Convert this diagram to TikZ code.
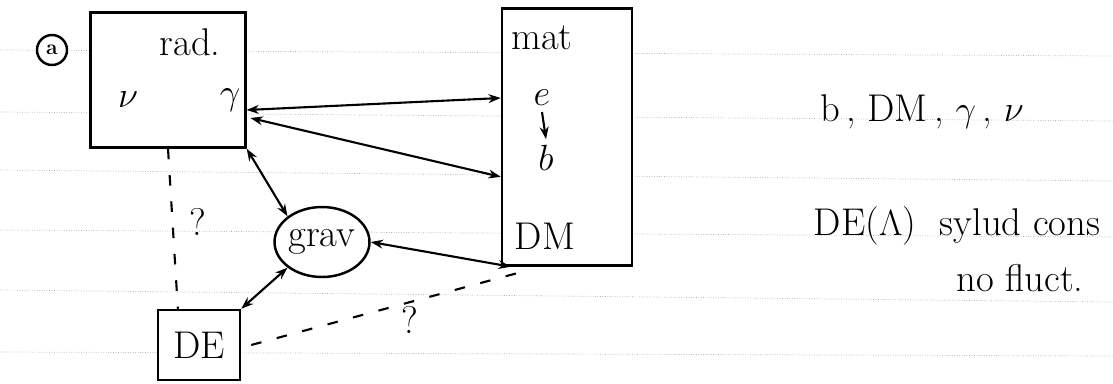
\documentclass[tikz,border=0pt]{standalone}
\usepackage{amsmath,amssymb}
\usetikzlibrary{positioning, arrows.meta, calc, shapes.geometric}
\definecolor{ruleline}{RGB}{170, 170, 170}

\begin{document}
\begin{tikzpicture}[
    x=0.02cm, y=-0.02cm,
    >={Stealth[length=7pt, width=5pt]},
    box/.style={draw=black, line width=1.4pt, inner sep=0pt},
    txt/.style={font=\fontsize{22}{26}\selectfont},
    arrow/.style={<->, line width=1.2pt, black},
    guess/.style={dashed, dash pattern=on 6pt off 9pt, line width=1.2pt, black},
]
\useasboundingbox (0,0) rectangle (1113,383);

% ===== ruled paper =====
\foreach \yl/\yr in {50/56, 112/121, 170/181, 230/237, 290/302, 352/356} {
    \draw[ruleline, densely dotted, line width=0.4pt] (0,\yl) -- (1113,\yr);
}

% ===== label =====
\node[draw, circle, line width=1.4pt, minimum size=0.6cm, inner sep=0pt, font=\large\bfseries, fill=white] (tag) at (52,50) {a};

% ===== rad =====
\node[box, fill=white, minimum width=3.1cm, minimum height=2.7cm] (rad) at (168,80) {};
\node[txt] (radlbl) at (190,42) {rad.};
\node[txt] (nu) at (128,100) {$\nu$};
\node[txt] (gam) at (230,100) {$\gamma$};

% ===== mat =====
\node[box, fill=white, minimum width=2.6cm, minimum height=5.14cm] (mat) at (567,137) {};
\node[txt, anchor=west] (matlbl) at (505,38) {mat};
\node[txt] (el) at (542,98) {$e$};
\node[txt] (bar) at (546,158) {$b$};
\node[txt] (dm) at (545,236) {DM};
\draw[->, line width=1.2pt] (el.south) -- (bar.north);

% ===== grav =====
\node[draw, ellipse, line width=1.4pt, minimum width=1.9cm, minimum height=1.4cm, inner sep=0pt, txt, fill=white] (grav) at (322,242) {grav};

% ===== DE =====
\node[box, fill=white, minimum width=1.64cm, minimum height=1.4cm, txt] (de) at (199,345) {DE};

% arrows
\draw[arrow] ($(gam.east)+(0,10)$) -- (mat.west |- el.west);
\draw[arrow] ($(gam.east)+(4,18)$) -- (mat.west |- bar.south);
\draw[arrow] (rad.south east) -- (grav.north west);
\draw[arrow] (grav.east) -- ($(mat.south west)+(10,0)$);
\draw[arrow] (grav.south west) -- (de.north east);

% unknown links
\coordinate (detop) at ($(de.north west)!0.25!(de.north east)$);
\draw[guess] (rad.south) -- (detop);
\node[txt] (q1) at (198,222) {?};
\draw[guess] ($(de.east)+(10,0)$) -- ($(mat.south west)+(18,6)$);
\node[txt] (q2) at (410,320) {?};

% ===== notes =====
\node[txt] (list) at (922,112) {b\,, DM\,, $\gamma$\,, $\nu$};
\node[txt] (delam) at (865,226) {DE($\Lambda$)};
\node[txt] (cons) at (1020,226) {sylud cons};
\node[txt] (fluct) at (1020,278) {no fluct.};

\end{tikzpicture}
\end{document}
